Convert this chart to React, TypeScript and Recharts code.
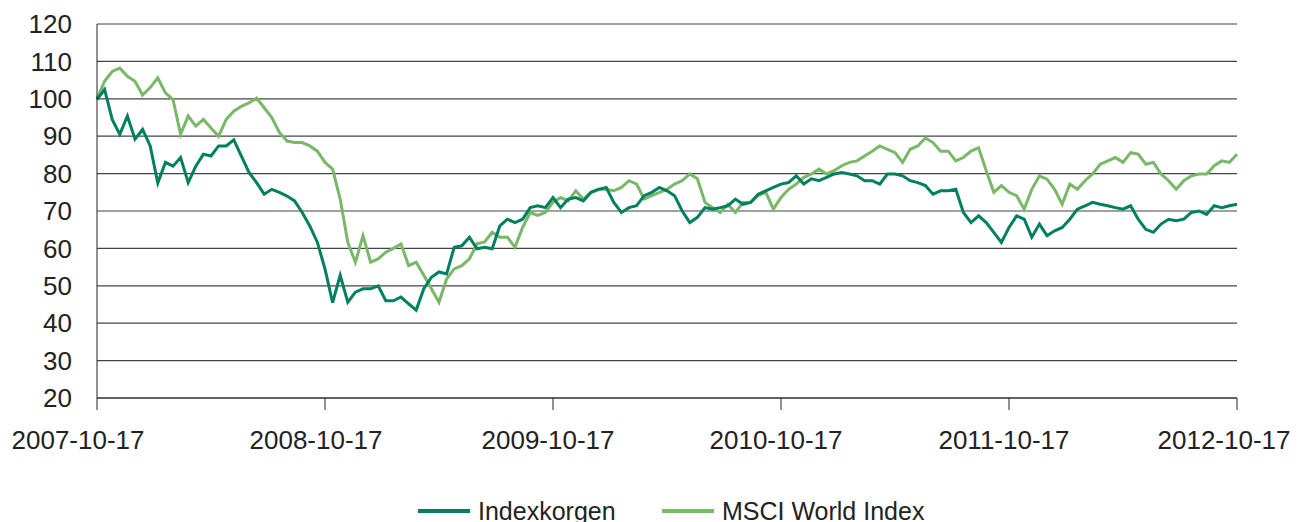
import { LineChart, Line, XAxis, YAxis, CartesianGrid } from "recharts";

// tick labels on the date axis (one per year)
const dateLabels = [
  "2007-10-17",
  "2008-10-17",
  "2009-10-17",
  "2010-10-17",
  "2011-10-17",
  "2012-10-17",
];

const yTicks = [20, 30, 40, 50, 60, 70, 80, 90, 100, 110, 120];

// about 30 readings per year
const indexkorgen = [
  99.8, 102.5, 94.5, 90.5, 95.4, 89.2, 91.8, 87.4, 77.5, 83, 82, 84.3, 77.6, 82, 85.2, 84.7, 87.4, 87.4, 89, 84.7, 80.3, 77.6, 74.5, 75.8, 75,
  74, 72.7, 69.6, 66, 61.6, 54.5, 45.5, 52.8, 45.6, 48.3, 49.2, 49.2, 50, 46, 46, 47, 45.2, 43.5, 49.2, 52.3, 53.7, 53.2, 60.3, 60.7, 63,
  59.9, 60.3, 59.9, 66, 67.8, 66.9, 67.8, 70.9, 71.4, 70.9, 73.6, 70.9, 73.2, 73.6, 72.7, 75, 75.8, 76.3, 72.3, 69.6, 70.9, 71.4, 74.1, 75, 76.3,
  75.4, 74.1, 70, 66.9, 68.3, 70.9, 70.5, 70.9, 71.4, 73.2, 71.8, 72.3, 74.5, 75.4, 76.3, 77.2, 77.6, 79.4, 77.2, 78.6, 78.1, 79, 79.9, 80.3, 79.9,
  79.4, 78.1, 78.1, 77.2, 79.9, 79.9, 79.4, 78.1, 77.6, 76.8, 74.5, 75.4, 75.4, 75.8, 69.6, 66.9, 68.7, 66.9, 64.3, 61.6, 65.6, 68.7, 67.8, 63, 66.5,
  63.4, 64.7, 65.6, 67.8, 70.5, 71.4, 72.3, 71.8, 71.4, 70.9, 70.5, 71.4, 67.8, 65.1, 64.3, 66.5, 67.8, 67.4, 67.8, 69.6, 70, 69.1, 71.4, 70.9, 71.4, 71.8,
];

const msciWorld = [
  100, 104.7, 107.3, 108.2, 106, 104.7, 101, 103, 105.6, 101.6, 99.8, 90.5, 95.4, 92.7, 94.5, 92.2, 90, 94.5, 96.7, 98, 98.9, 100.2, 97.6, 95, 91,
  88.7, 88.3, 88.3, 87.4, 86, 83, 81.2, 73.2, 61.6, 56.3, 63.4, 56.3, 57.2, 59, 60, 61.2, 55.4, 56.3, 52.8, 49.2, 45.6, 51.8, 54.5, 55.4, 57.2,
  61.2, 61.7, 64.3, 63, 63, 60.3, 65.6, 69.6, 68.8, 69.6, 72.3, 73.6, 72.7, 75.4, 73.2, 75, 75.8, 75.8, 75.4, 76.3, 78.1, 77.2, 73.2, 74.1, 75,
  75.8, 77.2, 78.1, 79.9, 78.6, 72.3, 70.9, 69.6, 71.8, 69.6, 72.3, 72.3, 74.1, 75, 70.5, 73.6, 75.8, 77.2, 79, 79.9, 81.2, 79.9, 80.8, 82.1, 83,
  83.4, 84.7, 86, 87.4, 86.5, 85.6, 83, 86.5, 87.4, 89.5, 88.3, 86, 86, 83.4, 84.3, 86, 86.9, 80.8, 75, 76.8, 75, 74.1, 70.5, 75.8, 79.4,
  78.5, 75.8, 71.8, 77.2, 75.8, 78.1, 79.9, 82.5, 83.4, 84.3, 83, 85.6, 85.2, 82.5, 83, 79.9, 78.1, 75.8, 78.1, 79.4, 79.9, 79.9, 82.1, 83.4, 83, 85.2,
];

const perYear = 30;
const data = indexkorgen.map((v, i) => ({ i, index: v, msci: msciWorld[i] }));
const xTicks = dateLabels.map((_, k) => k * perYear);

const DARK = "#00805e";
const LIGHT = "#78b866";
const FONT = "'Liberation Sans', Arial, sans-serif";

// date labels sit a little left of their tick marks, the first one more so
function DateTick(props: any) {
  const { x, y, payload } = props;
  const k = Math.round(payload.value / perYear);
  const shift = k === 0 ? -19 : k === 1 ? -9 : k === 5 ? -13 : -5;
  return (
    <text
      x={x + shift}
      y={y}
      dy="0.71em"
      textAnchor="middle"
      fill="#222"
      fontSize={26}
      fontFamily={FONT}
    >
      {dateLabels[k]}
    </text>
  );
}

export default function App() {
  return (
    <div style={{ position: "relative", width: 1293, height: 514, fontFamily: FONT }}>
      <LineChart
        width={1293}
        height={470}
        data={data}
        margin={{ top: 16, right: 64, bottom: 0, left: 0 }}
      >
        <CartesianGrid vertical={false} stroke="#444" strokeWidth={1.2} />
        <XAxis
          dataKey="i"
          type="number"
          domain={[0, 150]}
          ticks={xTicks}
          height={80}
          tickSize={12}
          tickMargin={21}
          axisLine={{ stroke: "#222" }}
          tickLine={{ stroke: "#222" }}
          tick={<DateTick />}
          interval={0}
        />
        <YAxis
          domain={[20, 120]}
          ticks={yTicks}
          width={89}
          tickLine={false}
          tickMargin={19}
          axisLine={{ stroke: "#222" }}
          tick={{ fill: "#222", fontSize: 26, fontFamily: FONT }}
          interval={0}
        />
        <Line
          type="linear"
          dataKey="msci"
          stroke={LIGHT}
          strokeWidth={3}
          dot={false}
          isAnimationActive={false}
        />
        <Line
          type="linear"
          dataKey="index"
          stroke={DARK}
          strokeWidth={3}
          dot={false}
          isAnimationActive={false}
        />
      </LineChart>
      {/* legend */}
      {[
        { name: "Indexkorgen", color: DARK, left: 410 },
        { name: "MSCI World Index", color: LIGHT, left: 654 },
      ].map((it) => (
        <div
          key={it.name}
          style={{
            position: "absolute",
            left: it.left,
            top: 489,
            height: 28,
            display: "flex",
            alignItems: "center",
            fontSize: 25,
            color: "#222",
            whiteSpace: "nowrap",
          }}
        >
          <span style={{ display: "inline-block", width: 52, height: 4, background: it.color, marginRight: 8 }} />
          {it.name}
        </div>
      ))}
    </div>
  );
}
